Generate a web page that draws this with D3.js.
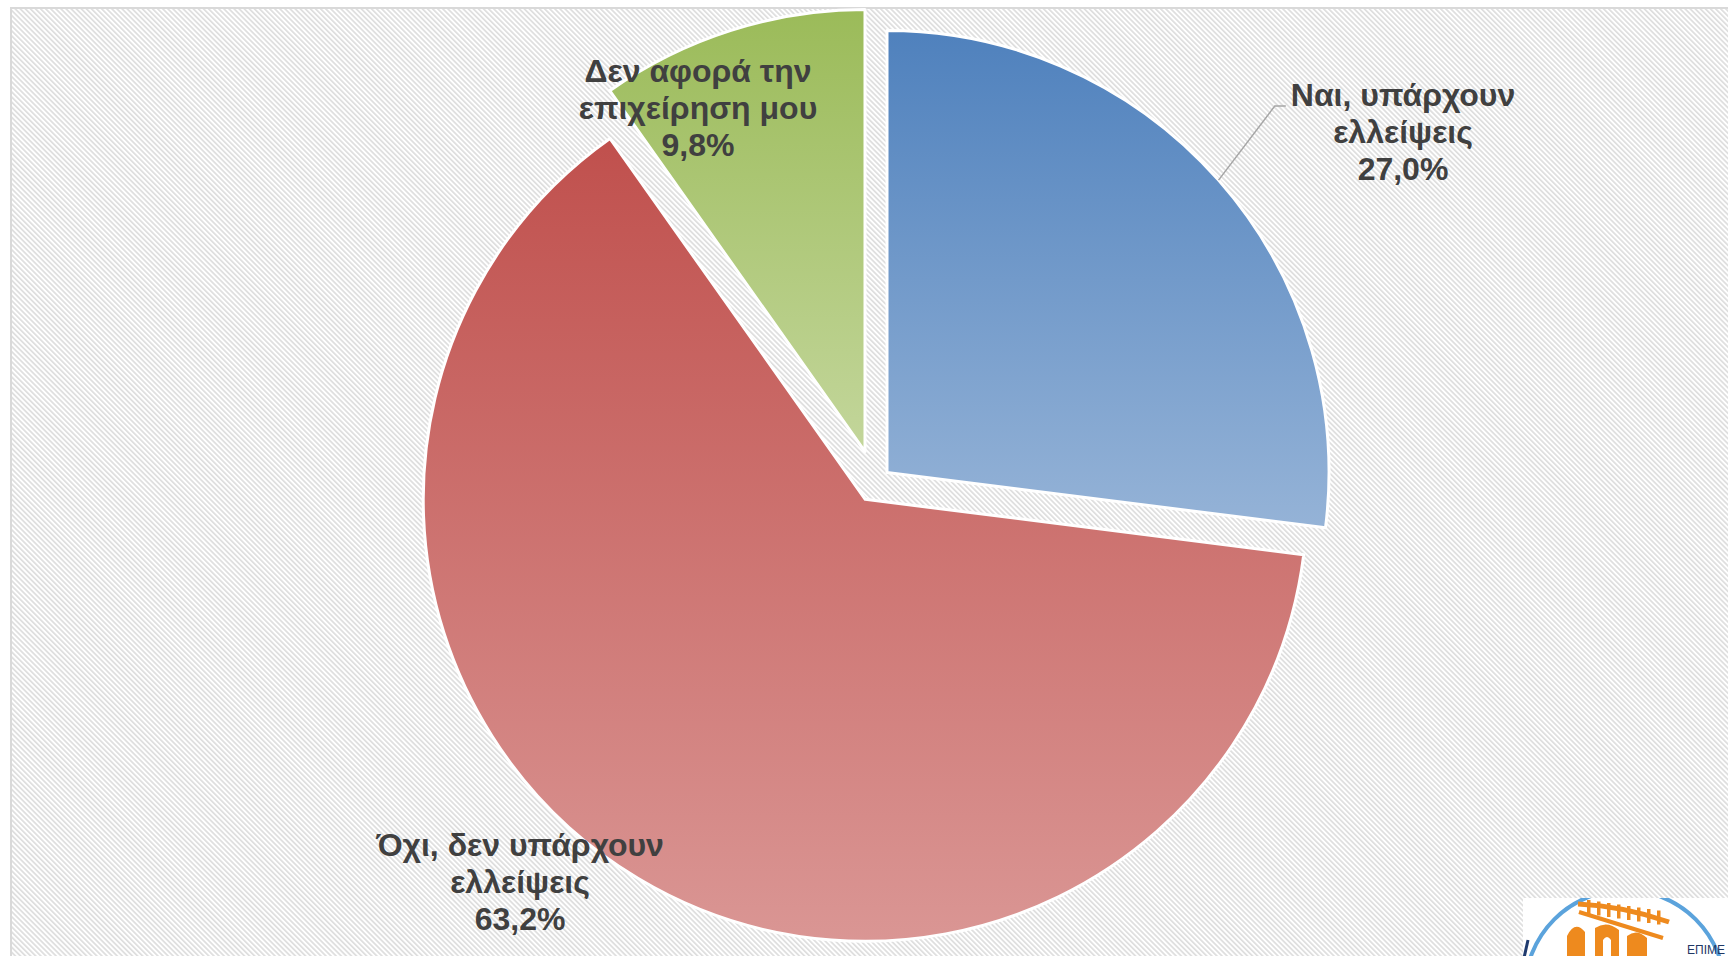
<!DOCTYPE html>
<html>
<head>
<meta charset="utf-8">
<script src="https://cdn.jsdelivr.net/npm/d3@7"></script>
<style>
  body { margin: 0; background: #fff; overflow: hidden; }
  svg { display: block; }
  .lbl { font-family: "Liberation Sans", Arial, sans-serif; font-weight: bold; font-size: 32px; fill: #404040; }
</style>
</head>
<body>
<svg id="chart"></svg>
<script>
// data
const categories = ["Ναι, υπάρχουν ελλείψεις", "Όχι, δεν υπάρχουν ελλείψεις", "Δεν αφορά την επιχείρηση μου"];
const values = [27.0, 63.2, 9.8];
const nameLines = [["Ναι, υπάρχουν", "ελλείψεις"], ["Όχι, δεν υπάρχουν", "ελλείψεις"], ["Δεν αφορά την", "επιχείρηση μου"]];
const valueLabels = ["27,0%", "63,2%", "9,8%"];

// styling / layout
const topColors = ["#4f81bd", "#c0504d", "#9bbb59"];
const bottomColors = ["#95b3d7", "#da9694", "#c3d69b"];
const explode = [16, 19, 33];
const labelPos = [[528, -340], [-355, 410], [-177, -364]];   // middle line, relative to pie centre
const hasLeader = [true, false, false];

const W = 1728, H = 956;
const cx = 875, cy = 483, radius = 442;
const lineH = 37;

const svg = d3.select("#chart").attr("width", W).attr("height", H);
const defs = svg.append("defs");

// hatch background
defs.append("pattern")
  .attr("id", "hatch")
  .attr("patternUnits", "userSpaceOnUse")
  .attr("width", 3.6).attr("height", 3.6)
  .attr("patternTransform", "rotate(-45)")
  .append("rect")
  .attr("width", 1.7).attr("height", 3.6)
  .attr("fill", "#dedede");

svg.append("rect").attr("width", W).attr("height", H).attr("fill", "#fff");
svg.append("rect")
  .attr("x", 11).attr("y", 8)
  .attr("width", W + 20).attr("height", H + 20)
  .attr("fill", "url(#hatch)")
  .attr("stroke", "#d9d9d9")
  .attr("stroke-width", 2);

// gradients
values.forEach((v, i) => {
  const g = defs.append("linearGradient")
    .attr("id", "grad" + i)
    .attr("x1", 0).attr("y1", 0).attr("x2", 0).attr("y2", 1);
  g.append("stop").attr("offset", "0%").attr("stop-color", topColors[i]);
  g.append("stop").attr("offset", "100%").attr("stop-color", bottomColors[i]);
});

const pie = d3.pie().sort(null).value(d => d);
const arcs = pie(values);
const arc = d3.arc().innerRadius(0).outerRadius(radius);

const mid = d => (d.startAngle + d.endAngle) / 2;
const shift = (d, i) => [explode[i] * Math.sin(mid(d)), -explode[i] * Math.cos(mid(d))];

const pieG = svg.append("g").attr("transform", "translate(" + cx + "," + cy + ")");

pieG.selectAll("path.slice")
  .data(arcs)
  .enter()
  .append("path")
  .attr("class", "slice")
  .attr("transform", (d, i) => "translate(" + shift(d, i).join(",") + ")")
  .attr("d", arc)
  .attr("fill", (d, i) => "url(#grad" + i + ")")
  .attr("stroke", "#fff")
  .attr("stroke-width", 3)
  .attr("stroke-linejoin", "round");

// labels
arcs.forEach((d, i) => {
  const [lx, ly] = labelPos[i];
  const t = pieG.append("text")
    .attr("class", "lbl")
    .attr("text-anchor", "middle");
  const lines = nameLines[i].concat([valueLabels[i]]);
  lines.forEach((s, k) => {
    t.append("tspan")
      .attr("x", lx)
      .attr("y", ly + (k - 1) * lineH)
      .text(s);
  });

  if (hasLeader[i]) {
    const w = t.select("tspan").node().getComputedTextLength();
    const left = lx - w / 2;
    const s = shift(d, i);
    const p0 = [s[0] + radius * Math.sin(mid(d)), s[1] - radius * Math.cos(mid(d))];
    const y1 = ly - lineH;
    pieG.append("polyline")
      .attr("points", [p0, [left - 16, y1], [left - 5, y1]].map(p => p.join(",")).join(" "))
      .attr("fill", "none")
      .attr("stroke", "#a6a6a6")
      .attr("stroke-width", 1.5);
  }
});

// logo in the corner (partly outside the window)
const logo = svg.append("g").attr("transform", "translate(1523,898)");
defs.append("clipPath").attr("id", "logoClip")
  .append("rect").attr("width", 210).attr("height", 60);
logo.append("rect").attr("width", 210).attr("height", 60).attr("fill", "#fff");
const lg = logo.append("g").attr("clip-path", "url(#logoClip)");
lg.append("circle")
  .attr("cx", 102).attr("cy", 92).attr("r", 100)
  .attr("fill", "none").attr("stroke", "#5ba3dc").attr("stroke-width", 4);
lg.append("line")
  .attr("x1", 5).attr("y1", 42).attr("x2", 1).attr("y2", 60)
  .attr("stroke", "#1f3a6e").attr("stroke-width", 3);
lg.append("path")
  .attr("d", "M55,6 Q100,8 146,24")
  .attr("fill", "none").attr("stroke", "#ee8a1e").attr("stroke-width", 5);
d3.range(8).forEach(k => {
  lg.append("rect")
    .attr("x", 64 + k * 10).attr("y", 2 + k * 1.5)
    .attr("width", 3.5).attr("height", 14)
    .attr("fill", "#ee8a1e");
});
lg.append("path")
  .attr("d", "M44,60 L44,38 Q52,22 62,34 L62,60 Z M72,60 L72,30 Q84,22 96,32 L96,60 L88,60 L88,42 Q84,36 80,42 L80,60 Z M104,60 L104,38 Q114,30 124,40 L124,60 Z")
  .attr("fill", "#ee8a1e");
lg.append("path")
  .attr("d", "M56,14 L140,40")
  .attr("fill", "none").attr("stroke", "#ee8a1e").attr("stroke-width", 4);
logo.append("text")
  .attr("x", 164).attr("y", 56)
  .attr("font-family", "Liberation Sans, Arial, sans-serif")
  .attr("font-size", 12)
  .attr("fill", "#1f3864")
  .text("ΕΠΙΜΕ");
</script>
</body>
</html>
